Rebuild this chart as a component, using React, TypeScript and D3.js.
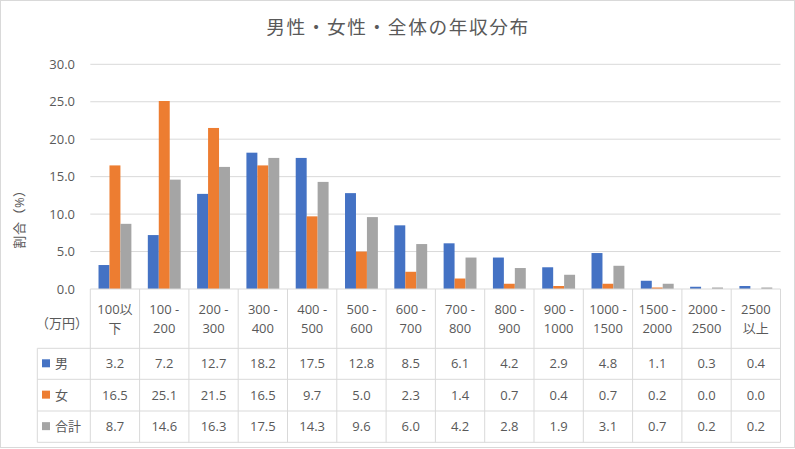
import React from "react";
import * as d3 from "d3";

const categories: string[][] = [
  ["100以", "下"], ["100 -", "200"], ["200 -", "300"], ["300 -", "400"], ["400 -", "500"],
  ["500 -", "600"], ["600 -", "700"], ["700 -", "800"], ["800 -", "900"], ["900 -", "1000"],
  ["1000 -", "1500"], ["1500 -", "2000"], ["2000 -", "2500"], ["2500", "以上"],
];
const seriesNames = ["男", "女", "合計"];
const male = [3.2, 7.2, 12.7, 18.2, 17.5, 12.8, 8.5, 6.1, 4.2, 2.9, 4.8, 1.1, 0.3, 0.4];
const female = [16.5, 25.1, 21.5, 16.5, 9.7, 5.0, 2.3, 1.4, 0.7, 0.4, 0.7, 0.2, 0.0, 0.0];
const total = [8.7, 14.6, 16.3, 17.5, 14.3, 9.6, 6.0, 4.2, 2.8, 1.9, 3.1, 0.7, 0.2, 0.2];
const yTicks = [0, 5, 10, 15, 20, 25, 30];
const colors = ["#4472C4", "#ED7D31", "#A5A5A5"];

const W = 795, H = 449;
const left = 90.3, right = 780.5, top = 64.3, bottom = 289;
const font = "'Open Sans', 'Noto Sans CJK JP', sans-serif";
const textColor = "#595959";
const gridColor = "#d9d9d9";

export default function App() {
  const series = [male, female, total];
  const idx = categories.map((_, i) => String(i));
  const x = d3.scaleBand().domain(idx).range([left, right]).paddingInner(0).paddingOuter(0);
  const cw = x.bandwidth();
  const barW = cw / 4.5;
  const x1 = d3.scaleBand().domain(["0", "1", "2"]).range([0, barW * 3]);
  const y = d3.scaleLinear().domain([0, 30]).range([bottom, top]);

  const rowLines = [289, 348.3, 379.3, 411, 442.3];
  const tableLeft = 37.3;

  return (
    <svg width={W} height={H} style={{ position: "absolute", left: 0, top: 0, background: "#fff" }}
      fontFamily={font}>
      <rect x={0.5} y={0.5} width={W - 1} height={H - 2} fill="#fff" stroke={gridColor} />
      <text x={398} y={34} textAnchor="middle" fontSize={18.7} letterSpacing={1.6} fill={textColor}
        fontFamily="'Noto Sans CJK JP', sans-serif">
        男性・女性・全体の年収分布
      </text>
      {yTicks.map((t) => (
        <g key={t}>
          {t > 0 && <line x1={left} x2={right} y1={y(t)} y2={y(t)} stroke={gridColor} strokeWidth={1} />}
          <text x={75} y={y(t)} dy="0.35em" textAnchor="end" fontSize={13} fill={textColor}>
            {t.toFixed(1)}
          </text>
        </g>
      ))}
      <text transform={`translate(24,216) rotate(-90)`} textAnchor="middle" fontSize={13} fill={textColor}
        letterSpacing={0.5}>
        割合（%）
      </text>
      {series.map((vals, s) =>
        vals.map((v, i) => (
          <rect key={`${s}-${i}`} x={(x(String(i)) as number) + barW * 0.75 + (x1(String(s)) as number)}
            y={y(v)} width={x1.bandwidth()} height={bottom - y(v)} fill={colors[s]} />
        ))
      )}
      {rowLines.map((ry, k) => (
        <line key={ry} x1={k === 0 ? left : tableLeft} x2={right} y1={ry} y2={ry} stroke={gridColor} />
      ))}
      <line x1={tableLeft} x2={tableLeft} y1={348.3} y2={442.3} stroke={gridColor} />
      {d3.range(categories.length + 1).map((i) => (
        <line key={i} x1={left + i * cw} x2={left + i * cw} y1={289} y2={442.3} stroke={gridColor} />
      ))}
      <text x={88} y={323} dy="0.35em" textAnchor="end" fontSize={13} fill={textColor}>（万円）</text>
      {categories.map((c, i) => (
        <g key={i}>
          {c.map((line, j) => (
            <text key={j} x={(x(String(i)) as number) + cw / 2} y={309 + j * 19.5} dy="0.35em"
              textAnchor="middle" fontSize={13} fill={textColor}>{line}</text>
          ))}
        </g>
      ))}
      {series.map((vals, s) => {
        const cy = (rowLines[s + 1] + rowLines[s + 2]) / 2;
        return (
          <g key={s}>
            <rect x={42} y={cy - 4.5} width={8} height={8} fill={colors[s]} />
            <text x={55} y={cy} dy="0.35em" fontSize={13} fill={textColor}>{seriesNames[s]}</text>
            {vals.map((v, i) => (
              <text key={i} x={(x(String(i)) as number) + cw / 2} y={cy} dy="0.35em" textAnchor="middle"
                fontSize={13} fill={textColor}>{v.toFixed(1)}</text>
            ))}
          </g>
        );
      })}
    </svg>
  );
}
